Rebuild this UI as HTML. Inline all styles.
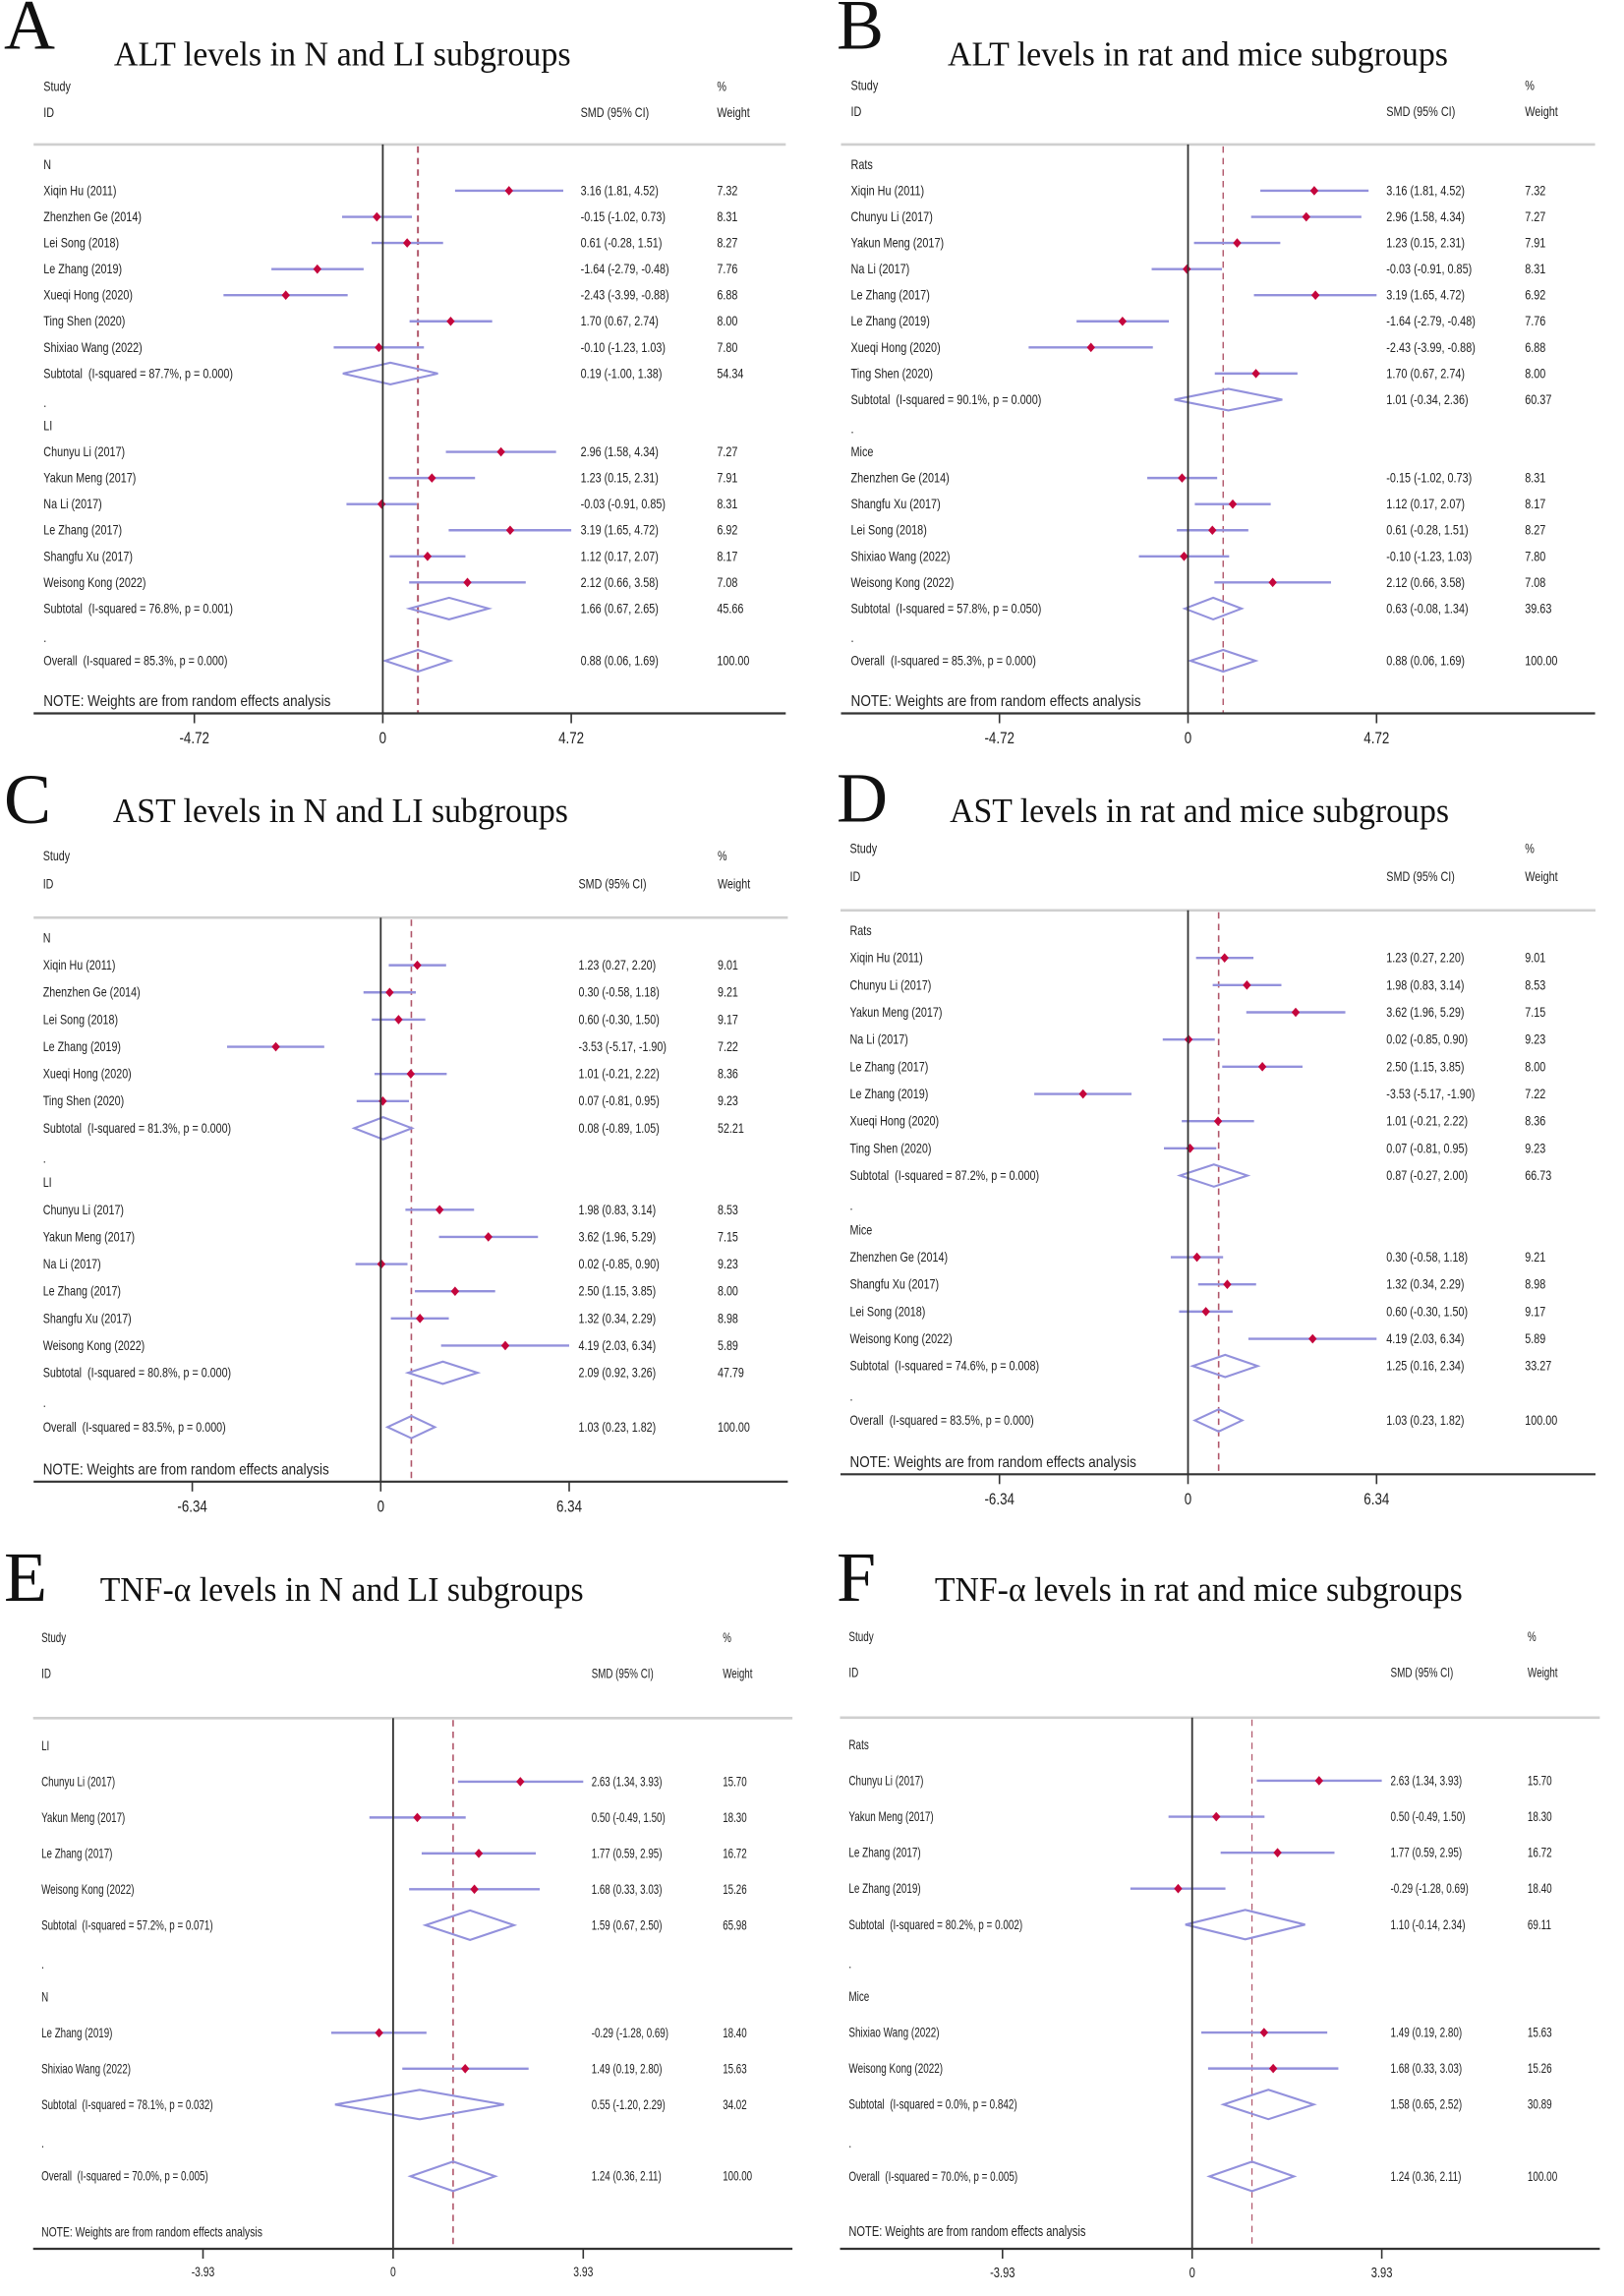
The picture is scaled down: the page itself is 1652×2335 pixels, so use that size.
<!DOCTYPE html>
<html>
<head>
<meta charset="utf-8">
<title>Forest plots of ALT, AST and TNF-α levels</title>
<style>
html,body{margin:0;padding:0;background:#fff;}
svg{display:block;}
text{white-space:pre;fill:#222;font-family:"Liberation Sans",sans-serif;}
.serif{font-family:"Liberation Serif",serif;fill:#111;}
</style>
</head>
<body>
<svg id="figure" xmlns="http://www.w3.org/2000/svg" width="1652" height="2335" viewBox="0 0 1652 2335"></svg>
<script>
const panelALabels=["N","Xiqin Hu (2011)","Zhenzhen Ge (2014)","Lei Song (2018)","Le Zhang (2019)","Xueqi Hong (2020)","Ting Shen (2020)","Shixiao Wang (2022)","Subtotal  (I-squared = 87.7%, p = 0.000)",".","LI","Chunyu Li (2017)","Yakun Meng (2017)","Na Li (2017)","Le Zhang (2017)","Shangfu Xu (2017)","Weisong Kong (2022)","Subtotal  (I-squared = 76.8%, p = 0.001)",".","Overall  (I-squared = 85.3%, p = 0.000)"];
const panelAEffects=[null,3.16,-0.15,0.61,-1.64,-2.43,1.70,-0.10,0.19,null,null,2.96,1.23,-0.03,3.19,1.12,2.12,1.66,null,0.88];
const panelALower=[null,1.81,-1.02,-0.28,-2.79,-3.99,0.67,-1.23,-1.00,null,null,1.58,0.15,-0.91,1.65,0.17,0.66,0.67,null,0.06];
const panelAUpper=[null,4.52,0.73,1.51,-0.48,-0.88,2.74,1.03,1.38,null,null,4.34,2.31,0.85,4.72,2.07,3.58,2.65,null,1.69];
const panelAWeights=[null,7.32,8.31,8.27,7.76,6.88,8.00,7.80,54.34,null,null,7.27,7.91,8.31,6.92,8.17,7.08,45.66,null,100.00];
const panelATicks=[-4.72,0,4.72];

const panelBLabels=["Rats","Xiqin Hu (2011)","Chunyu Li (2017)","Yakun Meng (2017)","Na Li (2017)","Le Zhang (2017)","Le Zhang (2019)","Xueqi Hong (2020)","Ting Shen (2020)","Subtotal  (I-squared = 90.1%, p = 0.000)",".","Mice","Zhenzhen Ge (2014)","Shangfu Xu (2017)","Lei Song (2018)","Shixiao Wang (2022)","Weisong Kong (2022)","Subtotal  (I-squared = 57.8%, p = 0.050)",".","Overall  (I-squared = 85.3%, p = 0.000)"];
const panelBEffects=[null,3.16,2.96,1.23,-0.03,3.19,-1.64,-2.43,1.70,1.01,null,null,-0.15,1.12,0.61,-0.10,2.12,0.63,null,0.88];
const panelBLower=[null,1.81,1.58,0.15,-0.91,1.65,-2.79,-3.99,0.67,-0.34,null,null,-1.02,0.17,-0.28,-1.23,0.66,-0.08,null,0.06];
const panelBUpper=[null,4.52,4.34,2.31,0.85,4.72,-0.48,-0.88,2.74,2.36,null,null,0.73,2.07,1.51,1.03,3.58,1.34,null,1.69];
const panelBWeights=[null,7.32,7.27,7.91,8.31,6.92,7.76,6.88,8.00,60.37,null,null,8.31,8.17,8.27,7.80,7.08,39.63,null,100.00];
const panelBTicks=[-4.72,0,4.72];

const panelCLabels=["N","Xiqin Hu (2011)","Zhenzhen Ge (2014)","Lei Song (2018)","Le Zhang (2019)","Xueqi Hong (2020)","Ting Shen (2020)","Subtotal  (I-squared = 81.3%, p = 0.000)",".","LI","Chunyu Li (2017)","Yakun Meng (2017)","Na Li (2017)","Le Zhang (2017)","Shangfu Xu (2017)","Weisong Kong (2022)","Subtotal  (I-squared = 80.8%, p = 0.000)",".","Overall  (I-squared = 83.5%, p = 0.000)"];
const panelCEffects=[null,1.23,0.30,0.60,-3.53,1.01,0.07,0.08,null,null,1.98,3.62,0.02,2.50,1.32,4.19,2.09,null,1.03];
const panelCLower=[null,0.27,-0.58,-0.30,-5.17,-0.21,-0.81,-0.89,null,null,0.83,1.96,-0.85,1.15,0.34,2.03,0.92,null,0.23];
const panelCUpper=[null,2.20,1.18,1.50,-1.90,2.22,0.95,1.05,null,null,3.14,5.29,0.90,3.85,2.29,6.34,3.26,null,1.82];
const panelCWeights=[null,9.01,9.21,9.17,7.22,8.36,9.23,52.21,null,null,8.53,7.15,9.23,8.00,8.98,5.89,47.79,null,100.00];
const panelCTicks=[-6.34,0,6.34];

const panelDLabels=["Rats","Xiqin Hu (2011)","Chunyu Li (2017)","Yakun Meng (2017)","Na Li (2017)","Le Zhang (2017)","Le Zhang (2019)","Xueqi Hong (2020)","Ting Shen (2020)","Subtotal  (I-squared = 87.2%, p = 0.000)",".","Mice","Zhenzhen Ge (2014)","Shangfu Xu (2017)","Lei Song (2018)","Weisong Kong (2022)","Subtotal  (I-squared = 74.6%, p = 0.008)",".","Overall  (I-squared = 83.5%, p = 0.000)"];
const panelDEffects=[null,1.23,1.98,3.62,0.02,2.50,-3.53,1.01,0.07,0.87,null,null,0.30,1.32,0.60,4.19,1.25,null,1.03];
const panelDLower=[null,0.27,0.83,1.96,-0.85,1.15,-5.17,-0.21,-0.81,-0.27,null,null,-0.58,0.34,-0.30,2.03,0.16,null,0.23];
const panelDUpper=[null,2.20,3.14,5.29,0.90,3.85,-1.90,2.22,0.95,2.00,null,null,1.18,2.29,1.50,6.34,2.34,null,1.82];
const panelDWeights=[null,9.01,8.53,7.15,9.23,8.00,7.22,8.36,9.23,66.73,null,null,9.21,8.98,9.17,5.89,33.27,null,100.00];
const panelDTicks=[-6.34,0,6.34];

const panelELabels=["LI","Chunyu Li (2017)","Yakun Meng (2017)","Le Zhang (2017)","Weisong Kong (2022)","Subtotal  (I-squared = 57.2%, p = 0.071)",".","N","Le Zhang (2019)","Shixiao Wang (2022)","Subtotal  (I-squared = 78.1%, p = 0.032)",".","Overall  (I-squared = 70.0%, p = 0.005)"];
const panelEEffects=[null,2.63,0.50,1.77,1.68,1.59,null,null,-0.29,1.49,0.55,null,1.24];
const panelELower=[null,1.34,-0.49,0.59,0.33,0.67,null,null,-1.28,0.19,-1.20,null,0.36];
const panelEUpper=[null,3.93,1.50,2.95,3.03,2.50,null,null,0.69,2.80,2.29,null,2.11];
const panelEWeights=[null,15.70,18.30,16.72,15.26,65.98,null,null,18.40,15.63,34.02,null,100.00];
const panelETicks=[-3.93,0,3.93];

const panelFLabels=["Rats","Chunyu Li (2017)","Yakun Meng (2017)","Le Zhang (2017)","Le Zhang (2019)","Subtotal  (I-squared = 80.2%, p = 0.002)",".","Mice","Shixiao Wang (2022)","Weisong Kong (2022)","Subtotal  (I-squared = 0.0%, p = 0.842)",".","Overall  (I-squared = 70.0%, p = 0.005)"];
const panelFEffects=[null,2.63,0.50,1.77,-0.29,1.10,null,null,1.49,1.68,1.58,null,1.24];
const panelFLower=[null,1.34,-0.49,0.59,-1.28,-0.14,null,null,0.19,0.33,0.65,null,0.36];
const panelFUpper=[null,3.93,1.50,2.95,0.69,2.34,null,null,2.80,3.03,2.52,null,2.11];
const panelFWeights=[null,15.70,18.30,16.72,18.40,69.11,null,null,15.63,15.26,30.89,null,100.00];
const panelFTicks=[-3.93,0,3.93];

const NS="http://www.w3.org/2000/svg";
const figure=document.getElementById("figure");
const CI_COLOR="#9391dc";
const MARK_COLOR="#c4063c";
const REF_COLOR="#b0566a";

function mk(tag,attrs,parent){
  const el=document.createElementNS(NS,tag);
  for(const k in attrs){el.setAttribute(k,attrs[k]);}
  parent.appendChild(el);
  return el;
}
function label(parent,x,y,str,fs,sx,anchor){
  const el=mk("text",{transform:"translate("+x+","+(y+fs*0.33)+") scale("+sx+",1)","font-size":fs,"text-anchor":anchor||"start"},parent);
  el.textContent=str;
  return el;
}
function diamondPath(x1,xm,x2,y,h){
  return "M"+x1+","+y+" L"+xm+","+(y-h)+" L"+x2+","+y+" L"+xm+","+(y+h)+" Z";
}

function drawPanel(g,data){
  const group=mk("g",{},figure);
  
  

  const tickMax=data.ticks[data.ticks.length-1];
  const xScale=function(v){return g.zeroX+v*(g.tickX-g.zeroX)/tickMax;};
  const yScale=function(i){return g.row0+i*g.pitch;};
  const fs=g.fs, sx=g.sx;

  const letter=mk("text",{x:g.letterX,y:g.letterY,"font-size":72,"class":"serif"},group);
  letter.textContent=g.letter;
  
  

  const title=mk("text",{x:g.titleX,y:g.titleY,"font-size":35,"class":"serif",textLength:g.titleW,lengthAdjust:"spacingAndGlyphs"},group);
  title.textContent=g.title;
  
  

  const h1=label(group,g.textX,g.studyY,"Study",fs,sx);
  
  
  const h2=label(group,g.textX,g.idY,"ID",fs,sx);
  
  
  const h3=label(group,g.smdX-0.5,g.idY,"SMD (95% CI)",fs,sx);
  
  
  const h4=label(group,g.wtX-0.8,g.studyY,"%",fs,sx);
  
  
  const h5=label(group,g.wtX-0.8,g.idY,"Weight",fs,sx);
  
  

  const topRule=mk("line",{x1:g.ruleL,x2:g.ruleR,y1:g.ruleTop,y2:g.ruleTop,stroke:"#cfcfcf","stroke-width":2.6},group);
  
  

  const overallIndex=data.effects.length-1;
  const refLine=mk("line",{x1:xScale(data.effects[overallIndex]),x2:xScale(data.effects[overallIndex]),y1:g.ruleTop+2,y2:g.axisY,stroke:REF_COLOR,"stroke-width":g.refW,"stroke-dasharray":"6.5 5.2"},group);
  
  

  data.labels.forEach(function(text,i){
    const y=yScale(i);
    const rowLabel=label(group,g.textX,text==="."?y+3:y,text,fs,sx);
    
    
    const e=data.effects[i];
    if(e===null){return;}
    const lo=data.lower[i], hi=data.upper[i];
    const ciText=label(group,g.smdX-0.5,y,e.toFixed(2)+" ("+lo.toFixed(2)+", "+hi.toFixed(2)+")",fs,sx);
    
    
    const wt=label(group,g.wtX-0.8,y,data.weights[i].toFixed(2),fs,sx);
    
    
    if(text.indexOf("Subtotal")===0||text.indexOf("Overall")===0){
      const pooled=mk("path",{d:diamondPath(xScale(lo),xScale(e),xScale(hi),y,g.dh),fill:"none",stroke:CI_COLOR,"stroke-width":2.1},group);
      
      
    }else{
      const ci=mk("line",{x1:xScale(lo),x2:xScale(hi),y1:y,y2:y,stroke:CI_COLOR,"stroke-width":2.4},group);
      
      
      const cx=xScale(e);
      const point=mk("path",{d:diamondPath(cx-4.2,cx,cx+4.2,y,4.8),fill:MARK_COLOR},group);
      
      
    }
  });

  const note=mk("text",{x:g.textX,y:g.noteY+g.noteFs*0.36,"font-size":g.noteFs,textLength:g.noteW,lengthAdjust:"spacingAndGlyphs"},group);
  note.textContent="NOTE: Weights are from random effects analysis";
  
  

  const zeroLine=mk("line",{x1:xScale(0),x2:xScale(0),y1:g.ruleTop,y2:g.axisY,stroke:"#333","stroke-width":1.8},group);
  
  

  const axis=mk("line",{x1:g.ruleL,x2:g.ruleR,y1:g.axisY,y2:g.axisY,stroke:"#333","stroke-width":2.2},group);
  
  

  data.ticks.forEach(function(t){
    const tick=mk("line",{x1:xScale(t),x2:xScale(t),y1:g.axisY,y2:g.axisY+10,stroke:"#333","stroke-width":1.6},group);
    
    
    const tl=label(group,xScale(t),g.tickLabelY,String(t),g.tickFs,g.tickSx,"middle");
    
    
  });
}

drawPanel({letter:"A",letterX:4,letterY:49.7,title:"ALT levels in N and LI subgroups",titleX:115.9,titleY:66.3,titleW:464.7,
  textX:44.3,smdX:591.1,wtX:730.2,ruleL:34.2,ruleR:799.3,zeroX:389.4,tickX:581.1,studyY:88,idY:114.4,ruleTop:146.9,row0:167.4,pitch:26.56,noteY:712.4,noteW:292,noteFs:16,axisY:725.5,tickLabelY:750.7,fs:13.5,sx:0.8,tickFs:16.5,tickSx:0.81,dh:11,refW:2},
  {labels:panelALabels,effects:panelAEffects,lower:panelALower,upper:panelAUpper,weights:panelAWeights,ticks:panelATicks});

drawPanel({letter:"B",letterX:851,letterY:49.7,title:"ALT levels in rat and mice subgroups",titleX:964,titleY:66.3,titleW:509,
  textX:865.5,smdX:1410.8,wtX:1552,ruleL:855.5,ruleR:1622.6,zeroX:1208.5,tickX:1400.3,studyY:87,idY:113.4,ruleTop:146.9,row0:167.4,pitch:26.56,noteY:712.4,noteW:295,noteFs:16,axisY:725.5,tickLabelY:750.7,fs:13.5,sx:0.805,tickFs:16.5,tickSx:0.81,dh:11,refW:1.4},
  {labels:panelBLabels,effects:panelBEffects,lower:panelBLower,upper:panelBUpper,weights:panelBWeights,ticks:panelBTicks});

drawPanel({letter:"C",letterX:4,letterY:837,title:"AST levels in N and LI subgroups",titleX:114.9,titleY:836.2,titleW:463,
  textX:43.7,smdX:589,wtX:730.8,ruleL:34.2,ruleR:801.4,zeroX:387.3,tickX:579,studyY:870.6,idY:899,ruleTop:933.2,row0:954,pitch:27.63,noteY:1493.6,noteW:291,noteFs:16,axisY:1506.8,tickLabelY:1532,fs:13.5,sx:0.795,tickFs:16.5,tickSx:0.81,dh:11.3,refW:1.6},
  {labels:panelCLabels,effects:panelCEffects,lower:panelCLower,upper:panelCUpper,weights:panelCWeights,ticks:panelCTicks});

drawPanel({letter:"D",letterX:851,letterY:835.7,title:"AST levels in rat and mice subgroups",titleX:966.1,titleY:836.2,titleW:507.9,
  textX:864.5,smdX:1410.8,wtX:1552,ruleL:855,ruleR:1623,zeroX:1208.5,tickX:1400.3,studyY:863.2,idY:891.5,ruleTop:925.8,row0:946.5,pitch:27.67,noteY:1486.2,noteW:291.3,noteFs:16,axisY:1499.3,tickLabelY:1524.6,fs:13.5,sx:0.8,tickFs:16.5,tickSx:0.81,dh:11.3,refW:1.6},
  {labels:panelDLabels,effects:panelDEffects,lower:panelDLower,upper:panelDUpper,weights:panelDWeights,ticks:panelDTicks});

drawPanel({letter:"E",letterX:4,letterY:1628,title:"TNF-α levels in N and LI subgroups",titleX:101.7,titleY:1628.2,titleW:492,
  textX:42.1,smdX:602.2,wtX:736,ruleL:33.7,ruleR:806.1,zeroX:399.9,tickX:593.3,studyY:1665.4,idY:1702,ruleTop:1747.3,row0:1775.4,pitch:36.49,noteY:2269.3,noteW:224.8,noteFs:14,axisY:2287,tickLabelY:2310.5,fs:13.5,sx:0.725,tickFs:14,tickSx:0.74,dh:15,refW:1.6},
  {labels:panelELabels,effects:panelEEffects,lower:panelELower,upper:panelEUpper,weights:panelEWeights,ticks:panelETicks});

drawPanel({letter:"F",letterX:851,letterY:1628,title:"TNF-α levels in rat and mice subgroups",titleX:950.9,titleY:1628.2,titleW:536.9,
  textX:863.4,smdX:1415,wtX:1554.7,ruleL:854.5,ruleR:1627.4,zeroX:1212.7,tickX:1405.6,studyY:1664.4,idY:1701,ruleTop:1746.8,row0:1774.4,pitch:36.58,noteY:2268.8,noteW:241,noteFs:14.5,axisY:2287,tickLabelY:2311,fs:13.5,sx:0.735,tickFs:14.5,tickSx:0.77,dh:15,refW:1.2},
  {labels:panelFLabels,effects:panelFEffects,lower:panelFLower,upper:panelFUpper,weights:panelFWeights,ticks:panelFTicks});
</script>
</body>
</html>
